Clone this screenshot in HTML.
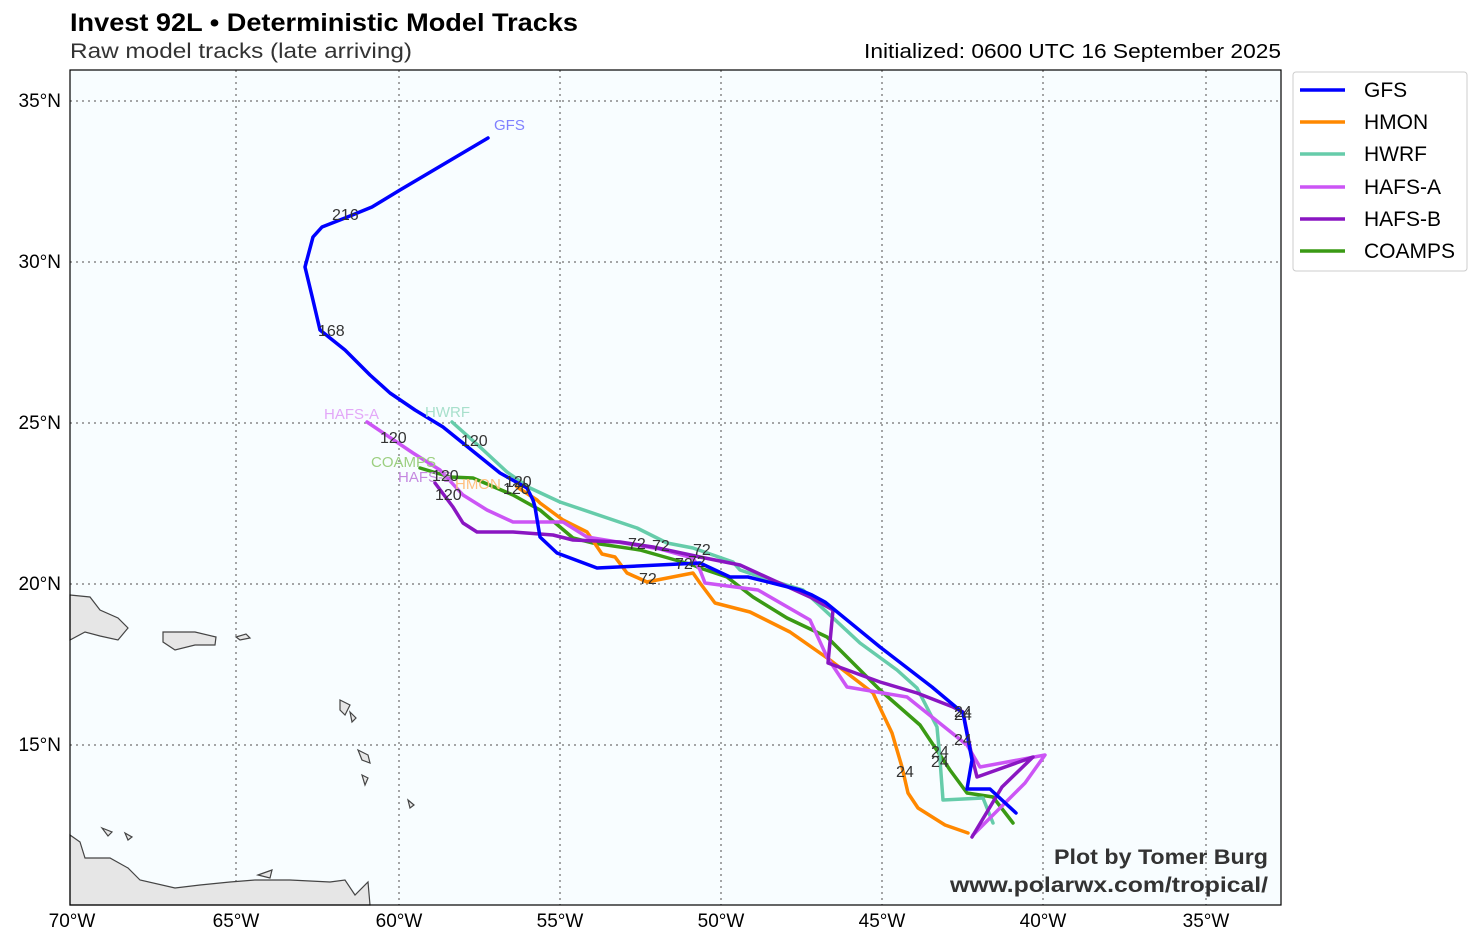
<!DOCTYPE html>
<html><head><meta charset="utf-8"><style>
body{margin:0;background:#fff;width:1480px;height:945px;overflow:hidden;font-family:"Liberation Sans","DejaVu Sans",sans-serif}
</style></head><body>
<svg width="1480" height="945" xmlns="http://www.w3.org/2000/svg" font-family="Liberation Sans, DejaVu Sans, sans-serif">
<rect width="1480" height="945" fill="#fff"/>
<text x="70" y="31" font-size="25" font-weight="bold" fill="#000" textLength="508" lengthAdjust="spacingAndGlyphs">Invest 92L • Deterministic Model Tracks</text>
<text x="70" y="58" font-size="21" fill="#333" textLength="342" lengthAdjust="spacingAndGlyphs">Raw model tracks (late arriving)</text>
<text x="864" y="58" font-size="20" fill="#000" textLength="417" lengthAdjust="spacingAndGlyphs">Initialized: 0600 UTC 16 September 2025</text>
<rect x="70" y="70" width="1211" height="835" fill="#f8fdff"/>
<g stroke="#888" stroke-width="1.5" stroke-dasharray="2,4" fill="none">
<line x1="236" y1="70" x2="236" y2="905"/><line x1="399" y1="70" x2="399" y2="905"/><line x1="560" y1="70" x2="560" y2="905"/><line x1="721" y1="70" x2="721" y2="905"/><line x1="882" y1="70" x2="882" y2="905"/><line x1="1043" y1="70" x2="1043" y2="905"/><line x1="1206" y1="70" x2="1206" y2="905"/>
<line x1="70" y1="101" x2="1281" y2="101"/><line x1="70" y1="262" x2="1281" y2="262"/><line x1="70" y1="423" x2="1281" y2="423"/><line x1="70" y1="584" x2="1281" y2="584"/><line x1="70" y1="745" x2="1281" y2="745"/>
</g>
<g fill="#e6e6e6" stroke="#444" stroke-width="1.2">
<path d="M70,595 L90,597 L100,610 L118,618 L128,628 L118,640 L100,636 L85,632 L70,640 Z"/>
<path d="M163,632 L195,632 L216,637 L215,645 L195,645 L175,650 L163,642 Z"/>
<path d="M236,637 L246,634 L250,638 L240,640 Z"/>
<path d="M70,835 L80,842 L85,858 L110,858 L128,868 L140,880 L175,888 L200,885 L230,882 L255,880 L290,880 L330,882 L345,880 L355,895 L368,882 L370,905 L70,905 Z"/>
<path d="M258,875 L272,870 L270,878 Z"/>
<path d="M340,700 L350,705 L345,715 L340,710 Z"/>
<path d="M358,750 L368,755 L370,763 L362,760 Z"/>
<path d="M362,775 L368,778 L365,785 Z"/>
<path d="M408,800 L414,805 L410,808 Z"/>
<path d="M350,712 L356,718 L352,722 Z"/>
<path d="M102,828 L112,832 L108,836 Z"/>
<path d="M125,833 L132,837 L128,840 Z"/>
</g>
<g fill="none" stroke-width="3.5" stroke-linejoin="round" stroke-linecap="round">
<polyline stroke="#3a9a14" points="1013,823 993,797 967,793 950,770 920,725 880,690 827,637 787,618 753,597 727,577 700,568 693,565 640,550 593,543 573,538 540,510 513,495 473,478 450,477 420,468"/>
<polyline stroke="#66ccaa" points="993,823 983,798 943,800 940,760 937,727 917,688 897,670 860,643 803,590 780,583 740,570 733,562 693,548 667,543 637,528 560,502 530,488 507,472 480,447 452,422"/>
<polyline stroke="#ff8800" points="968,833 945,825 918,808 908,793 902,767 892,733 873,693 860,683 830,660 790,632 750,612 715,603 700,583 693,573 657,580 647,582 627,573 615,557 602,554 587,532 563,520 540,503 537,500 517,487"/>
<polyline stroke="#cc55f5" points="973,835 1025,783 1045,755 980,767 967,745 907,697 847,687 827,657 810,620 758,590 705,583 700,570 693,558 660,549 587,537 563,522 513,522 487,510 463,495 440,470 413,453 367,422"/>
<polyline stroke="#8a16c2" points="972,837 1002,787 1033,757 977,777 972,757 963,712 953,707 917,693 880,682 828,663 833,610 810,597 740,565 700,557 653,547 620,542 573,540 553,535 513,532 477,532 463,523 453,507 435,483"/>
<polyline stroke="#0000ff" points="1016,813 990,789 967,789 972,760 963,713 932,687 880,647 825,602 812,595 800,590 748,577 730,577 700,563 597,568 557,553 540,537 535,507 533,500 527,488 500,473 443,427 415,410 390,393 370,375 345,350 320,330 312,296 305,267 313,237 322,227 345,218 372,207 400,190 488,138"/>
</g>
<g font-size="15">
<text x="494" y="130" fill="#8080ff">GFS</text>
<text x="425" y="417" fill="#a8e0cc">HWRF</text>
<text x="324" y="419" fill="#e3a8f8">HAFS-A</text>
<text x="371" y="467" fill="#9ccf80">COAMPS</text>
<text x="398" y="482" fill="#c588e0">HAFS-B</text>
<text x="455" y="489" fill="#ffc080">HMON</text>
</g>
<g font-size="16" fill="#333">
<text x="332" y="220">216</text><text x="318" y="336">168</text>
<text x="380" y="443">120</text><text x="461" y="446">120</text><text x="432" y="481">120</text><text x="435" y="500">120</text><text x="505" y="487">120</text><text x="503" y="494">120</text>
<text x="628" y="549">72</text><text x="652" y="551">72</text><text x="693" y="555">72</text><text x="675" y="569">72</text><text x="688" y="567">72</text><text x="639" y="584">72</text>
<text x="954" y="717">24</text><text x="954" y="720">24</text><text x="954" y="745">24</text><text x="931" y="757">24</text><text x="931" y="767">24</text><text x="896" y="777">24</text>
</g>
<text x="1268" y="864" font-size="21" font-weight="bold" fill="#333" text-anchor="end" textLength="214" lengthAdjust="spacingAndGlyphs">Plot by Tomer Burg</text>
<text x="1268" y="892" font-size="21" font-weight="bold" fill="#333" text-anchor="end" textLength="318" lengthAdjust="spacingAndGlyphs">www.polarwx.com/tropical/</text>
<rect x="70" y="70" width="1211" height="835" fill="none" stroke="#000" stroke-width="1.2"/>
<g font-size="19" fill="#000" text-anchor="end">
<text x="61" y="107">35°N</text><text x="61" y="268">30°N</text><text x="61" y="429">25°N</text><text x="61" y="590">20°N</text><text x="61" y="751">15°N</text>
</g>
<g font-size="19" fill="#000" text-anchor="middle">
<text x="72" y="927">70°W</text><text x="236" y="927">65°W</text><text x="399" y="927">60°W</text><text x="560" y="927">55°W</text><text x="721" y="927">50°W</text><text x="882" y="927">45°W</text><text x="1043" y="927">40°W</text><text x="1206" y="927">35°W</text>
</g>
<rect x="1293" y="72" width="174" height="199" rx="3" fill="#fff" stroke="#ccc"/>
<g stroke-width="3.5">
<line x1="1300" y1="90" x2="1345" y2="90" stroke="#0000ff"/>
<line x1="1300" y1="122" x2="1345" y2="122" stroke="#ff8800"/>
<line x1="1300" y1="154" x2="1345" y2="154" stroke="#66ccaa"/>
<line x1="1300" y1="187" x2="1345" y2="187" stroke="#cc55f5"/>
<line x1="1300" y1="219" x2="1345" y2="219" stroke="#8a16c2"/>
<line x1="1300" y1="251" x2="1345" y2="251" stroke="#3a9a14"/>
</g>
<g font-size="21" fill="#000">
<text x="1364" y="97">GFS</text><text x="1364" y="129">HMON</text><text x="1364" y="161">HWRF</text><text x="1364" y="194">HAFS-A</text><text x="1364" y="226">HAFS-B</text><text x="1364" y="258">COAMPS</text>
</g>
</svg>
</body></html>
